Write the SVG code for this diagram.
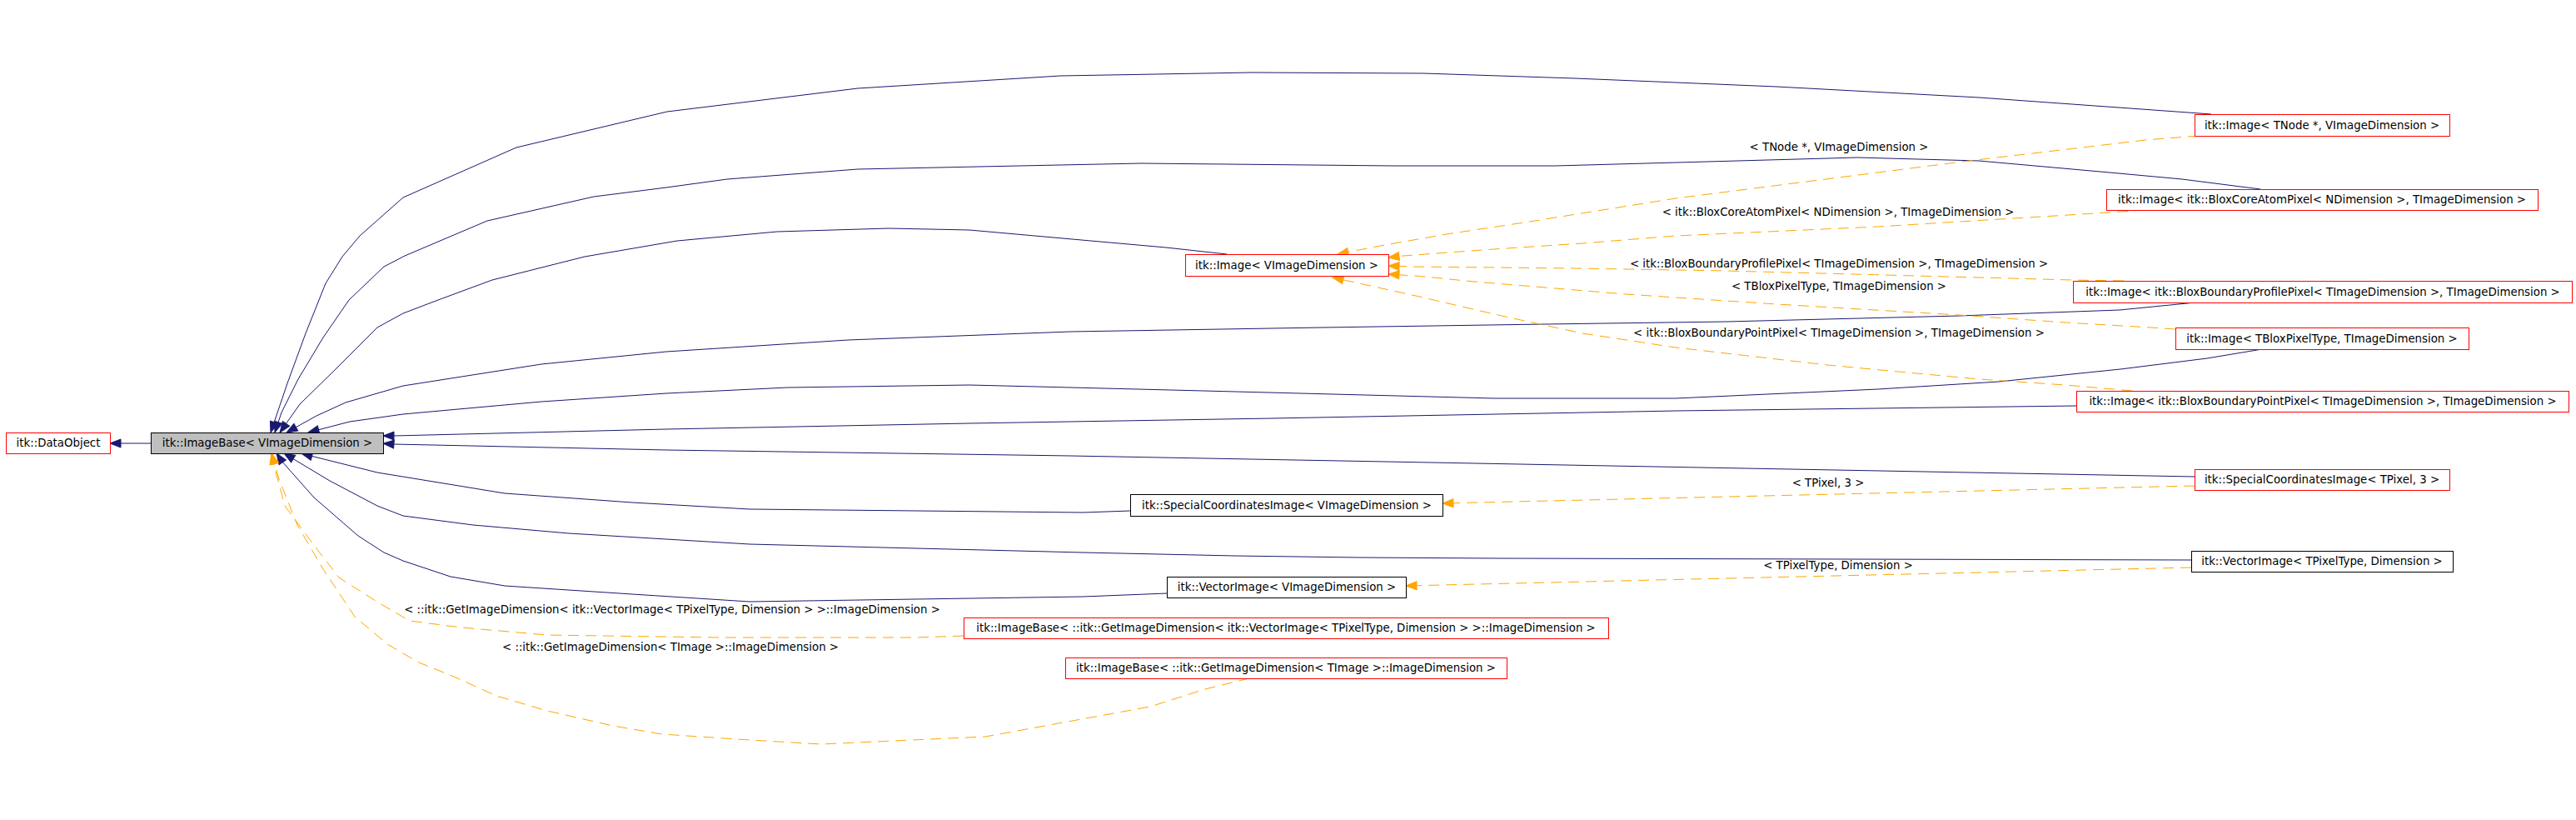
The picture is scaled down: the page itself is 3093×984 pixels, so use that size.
<svg xmlns="http://www.w3.org/2000/svg" width="3093" height="984" viewBox="0 0 3093 984">
<style>
.box{fill:#ffffff;stroke:#ff0000;stroke-width:1}
.blk{fill:#ffffff;stroke:#000000;stroke-width:1}
.cur{fill:#bfbfbf;stroke:#000000;stroke-width:1}
text{font-family:"DejaVu Sans","Liberation Sans",sans-serif;font-size:13.33px;fill:#000000}
.n text{text-anchor:middle}
.inh{fill:none;stroke:#191970;stroke-width:1;marker-end:url(#an)}
.tpl{fill:none;stroke:#ffa500;stroke-width:1;stroke-dasharray:13,8;marker-end:url(#ao)}
.lbl{text-anchor:middle}
</style>
<defs>
<marker id="an" markerUnits="userSpaceOnUse" markerWidth="14" markerHeight="11" viewBox="0 0 14 11" refX="13" refY="5.5" orient="auto" overflow="visible">
<path d="M0,0.5 L13,5.5 L0,10.5 z" fill="#191970" stroke="#191970" stroke-width="1"/>
</marker>
<marker id="ao" markerUnits="userSpaceOnUse" markerWidth="14" markerHeight="11" viewBox="0 0 14 11" refX="13" refY="5.5" orient="auto" overflow="visible">
<path d="M0,0.5 L13,5.5 L0,10.5 z" fill="#ffa500" stroke="#ffa500" stroke-width="1"/>
</marker>
</defs>
<rect width="3093" height="984" fill="#ffffff"/>
<g id="connectors">
<path class="inh" d="M181,532 L132,532"/>
<path class="inh" d="M2655,137 L2376,117 L2133,104 L1891,94 L1709,88 L1503,87 L1273,91 L1030,106 L801,134 L620,177 L484,237 L432,283 L411,308 L391,340 L367,400 L345,460 L325,519"/>
<path class="inh" d="M2714,227 L2620,215 L2533,207 L2376,193 L2230,189 L2050,194 L1867,199 L1673,199 L1370,196 L1030,203 L873,215 L800,225 L713,236 L585,265 L486,307 L461,320 L419,360 L388,405 L358,455 L338,495 L330,519"/>
<path class="inh" d="M1473,305 L1400,297 L1321,290 L1164,276 L1067,274 L933,278 L813,289 L702,308 L591,336 L526,360 L484,376 L453,393 L403,443 L360,485 L336,519"/>
<path class="inh" d="M2636,363 L2545,372 L2352,379 L2073,386 L1855,389 L1588,393 L1285,398 L1018,408 L800,422 L650,437 L484,463 L415,483 L380,499 L344,519"/>
<path class="inh" d="M2716,419 L2650,430 L2546,443 L2400,458 L2255,467 L2012,478 L1794,478 L1600,473 L1406,468 L1164,462 L946,465 L800,472 L650,482 L484,497 L420,506 L370,519"/>
<path class="inh" d="M2493,487 L2012,493 L1527,502 L1164,508 L800,515 L472,523 L460,523"/>
<path class="inh" d="M2635,572 L1933,559 L1285,547 L800,540 L472,533 L460,532"/>
<path class="inh" d="M1357,613 L1300,615 L900,611 L759,603 L606,592 L453,567 L373,547 L362,544"/>
<path class="inh" d="M2631,672 L1800,670 L1633,669 L1483,667 L1300,663 L900,653 L683,640 L568,630 L484,619 L453,607 L396,577 L341,544"/>
<path class="inh" d="M1401,712 L1300,716 L900,722 L759,713 L606,703 L541,692 L484,673 L461,663 L430,643 L377,597 L338,553 L332,544"/>
<path class="tpl" d="M1157,763 L1100,765 L865,765 L657,762 L554,753 L492,745 L454,723 L407,693 L376,653 L342,607 L330,562 L326,544"/>
<path class="tpl" d="M1500,814 L1447,827 L1381,848 L1183,884 L986,893 L900,888 L795,881 L736,871 L657,853 L596,835 L545,812 L503,795 L465,773 L426,740 L388,683 L357,630 L335,575 L326,544"/>
<path class="tpl" d="M2640,163 L2576,168 L2500,177 L2364,193 L2200,214 L2012,238 L1830,267 L1737,281 L1657,295 L1606,305"/>
<path class="tpl" d="M2576,252 L2500,257 L2255,272 L2012,283 L1900,292 L1794,299 L1685,307 L1667,309"/>
<path class="tpl" d="M2550,337 L2488,336 L2376,333 L2073,325 L1891,322 L1697,320 L1667,319"/>
<path class="tpl" d="M2612,395 L2582,393 L2480,387 L2352,378 L2133,365 L1952,353 L1770,338 L1700,331 L1667,329"/>
<path class="tpl" d="M2560,469 L2480,462 L2376,455 L2194,438 L2012,417 L1900,400 L1803,379 L1700,355 L1600,333"/>
<path class="tpl" d="M2635,583 L1732,604"/>
<path class="tpl" d="M2631,681 L1688,703"/>
<text class="lbl" x="2208" y="181">&lt; TNode *, VImageDimension &gt;</text>
<text class="lbl" x="2207" y="259">&lt; itk::BloxCoreAtomPixel&lt; NDimension &gt;, TImageDimension &gt;</text>
<text class="lbl" x="2208" y="321">&lt; itk::BloxBoundaryProfilePixel&lt; TImageDimension &gt;, TImageDimension &gt;</text>
<text class="lbl" x="2208" y="348">&lt; TBloxPixelType, TImageDimension &gt;</text>
<text class="lbl" x="2208" y="404">&lt; itk::BloxBoundaryPointPixel&lt; TImageDimension &gt;, TImageDimension &gt;</text>
<text class="lbl" x="2195" y="584">&lt; TPixel, 3 &gt;</text>
<text class="lbl" x="2207" y="683">&lt; TPixelType, Dimension &gt;</text>
<text class="lbl" x="807" y="736">&lt; ::itk::GetImageDimension&lt; itk::VectorImage&lt; TPixelType, Dimension &gt; &gt;::ImageDimension &gt;</text>
<text class="lbl" x="805" y="781">&lt; ::itk::GetImageDimension&lt; TImage &gt;::ImageDimension &gt;</text>
</g>
<g id="n-dataobject" class="n"><rect class="box" x="7.5" y="519.5" width="125" height="25"/><text x="70" y="536">itk::DataObject</text></g>
<g id="n-imagebase" class="n"><rect class="cur" x="181.5" y="519.5" width="279" height="25"/><text x="321" y="536">itk::ImageBase&lt; VImageDimension &gt;</text></g>
<g id="n-image" class="n"><rect class="box" x="1423.5" y="305.5" width="244" height="26"/><text x="1545" y="323">itk::Image&lt; VImageDimension &gt;</text></g>
<g id="n-image-tnode" class="n"><rect class="box" x="2635.5" y="137.5" width="306" height="26"/><text x="2788" y="155">itk::Image&lt; TNode *, VImageDimension &gt;</text></g>
<g id="n-image-bloxcore" class="n"><rect class="box" x="2529.5" y="227.5" width="518" height="25"/><text x="2788" y="244">itk::Image&lt; itk::BloxCoreAtomPixel&lt; NDimension &gt;, TImageDimension &gt;</text></g>
<g id="n-image-profile" class="n"><rect class="box" x="2489.5" y="337.5" width="599" height="26"/><text x="2789" y="355">itk::Image&lt; itk::BloxBoundaryProfilePixel&lt; TImageDimension &gt;, TImageDimension &gt;</text></g>
<g id="n-image-tblox" class="n"><rect class="box" x="2612.5" y="393.5" width="352" height="26"/><text x="2788" y="411">itk::Image&lt; TBloxPixelType, TImageDimension &gt;</text></g>
<g id="n-image-point" class="n"><rect class="box" x="2493.5" y="469.5" width="591" height="25"/><text x="2789" y="486">itk::Image&lt; itk::BloxBoundaryPointPixel&lt; TImageDimension &gt;, TImageDimension &gt;</text></g>
<g id="n-sci-tpixel" class="n"><rect class="box" x="2635.5" y="563.5" width="306" height="25"/><text x="2788" y="580">itk::SpecialCoordinatesImage&lt; TPixel, 3 &gt;</text></g>
<g id="n-vi-tpixel" class="n"><rect class="blk" x="2631.5" y="661.5" width="314" height="25"/><text x="2788" y="678">itk::VectorImage&lt; TPixelType, Dimension &gt;</text></g>
<g id="n-sci" class="n"><rect class="blk" x="1357.5" y="593.5" width="375" height="26"/><text x="1545" y="611">itk::SpecialCoordinatesImage&lt; VImageDimension &gt;</text></g>
<g id="n-vi" class="n"><rect class="blk" x="1401.5" y="692.5" width="287" height="25"/><text x="1545" y="709">itk::VectorImage&lt; VImageDimension &gt;</text></g>
<g id="n-ib-vector" class="n"><rect class="box" x="1157.5" y="741.5" width="774" height="25"/><text x="1544" y="758">itk::ImageBase&lt; ::itk::GetImageDimension&lt; itk::VectorImage&lt; TPixelType, Dimension &gt; &gt;::ImageDimension &gt;</text></g>
<g id="n-ib-timage" class="n"><rect class="box" x="1279.5" y="789.5" width="530" height="25"/><text x="1544" y="806">itk::ImageBase&lt; ::itk::GetImageDimension&lt; TImage &gt;::ImageDimension &gt;</text></g>
</svg>
